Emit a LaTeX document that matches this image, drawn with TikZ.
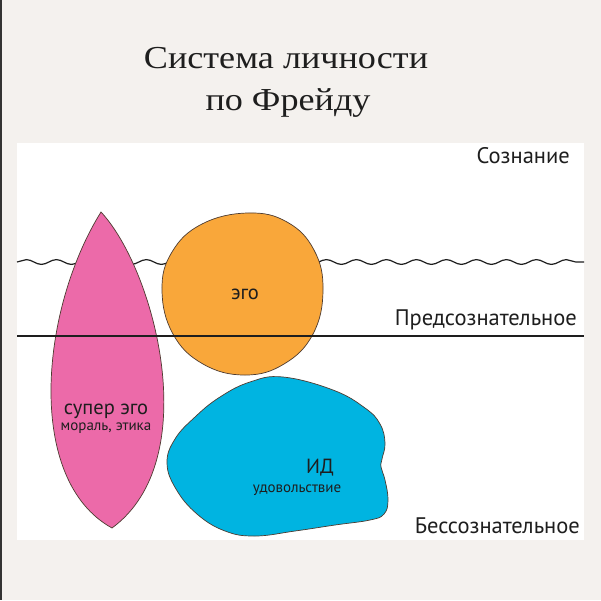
\documentclass[tikz,border=0pt]{standalone}
\usepackage{fontspec}
\setmainfont{Liberation Serif}
\newfontfamily\labfont{PT Sans}
\usetikzlibrary{decorations.pathmorphing}
\definecolor{bgc}{HTML}{F4F1EE}
\definecolor{pinkc}{HTML}{EC6AA9}
\definecolor{orangec}{HTML}{F9A73A}
\definecolor{bluec}{HTML}{00B4E1}
\definecolor{edgec}{HTML}{4D3B30}
\definecolor{inkc}{HTML}{1E1E1E}
\begin{document}
\begin{tikzpicture}[x=1pt,y=-1pt,
  blob/.style={draw=edgec, line width=0.7pt},
  level/.style={draw=inkc, line width=1.2pt},
  wave/.style={level, decorate, decoration={snake, amplitude=2.4pt, segment length=30pt}},
  titletext/.style={inner sep=0pt, anchor=base, text=inkc, font=\fontsize{32}{38}\selectfont},
  lab/.style={inner sep=0pt, anchor=base east, text=inkc, font=\labfont\fontsize{22.5}{26}\selectfont},
  biglab/.style={inner sep=0pt, anchor=base, text=inkc, font=\labfont\fontsize{20.5}{24}\selectfont},
  smalllab/.style={inner sep=0pt, anchor=base, text=inkc, font=\labfont\fontsize{15}{18}\selectfont}]
\useasboundingbox (0,0) rectangle (601,600);
\fill[bgc] (0,0) rectangle (601,600);
\fill[black!80] (0,0) rectangle (2,600);
\fill[white] (17,143) rectangle (584,540);
% title
\node[titletext] (t1) at (286,68) {\scalebox{1.13}[1]{Система личности}};
\node[titletext] (t2) at (288,110) {\scalebox{1.13}[1]{по Фрейду}};
% wave line (consciousness boundary)
\coordinate (wl) at (17,262);
\coordinate (wr) at (584,262);
\draw[wave] (wl) -- (wr);
% id
\draw[blob, fill=bluec] plot[smooth cycle, tension=0.7] coordinates {
 (283,377) (333,390) (365,408) (380,424) (385,443) (382,459) (381,467)
 (385,480) (388,500) (384,514) (370,520) (335,525) (295,531) (255,536)
 (225,531) (197,514) (176,489) (167,463) (175,439) (195,417) (220,397) (250,382)};
% super ego
\draw[blob, fill=pinkc] (101,212) .. controls (155,270) and (205,460) .. (112,528)
  .. controls (25,480) and (40,310) .. (101,212) -- cycle;
% ego
\draw[blob, fill=orangec] plot[smooth cycle, tension=0.7] coordinates {
 (323,290) (313,334) (284,364) (245,375) (203,364) (173,334) (162,290)
 (172,252) (202,224) (248,213) (287,222) (314,250)};
% preconscious boundary
\coordinate (sl) at (17,336);
\coordinate (sr) at (584,336);
\draw[level] (sl) -- (sr);
% labels
\node[lab] (soz) at (570,163) {Сознание};
\node[lab] (pred) at (577,325) {Предсознательное};
\node[lab] (bess) at (580,533) {Бессознательное};
\node[biglab] (ego) at (245,299) {эго};
\node[biglab] (sego) at (106,414) {супер эго};
\node[smalllab] (moral) at (106,430) {мораль, этика};
\node[biglab] (id) at (320,473) {ИД};
\node[smalllab] (udov) at (297,492) {удовольствие};
\end{tikzpicture}
\end{document}
